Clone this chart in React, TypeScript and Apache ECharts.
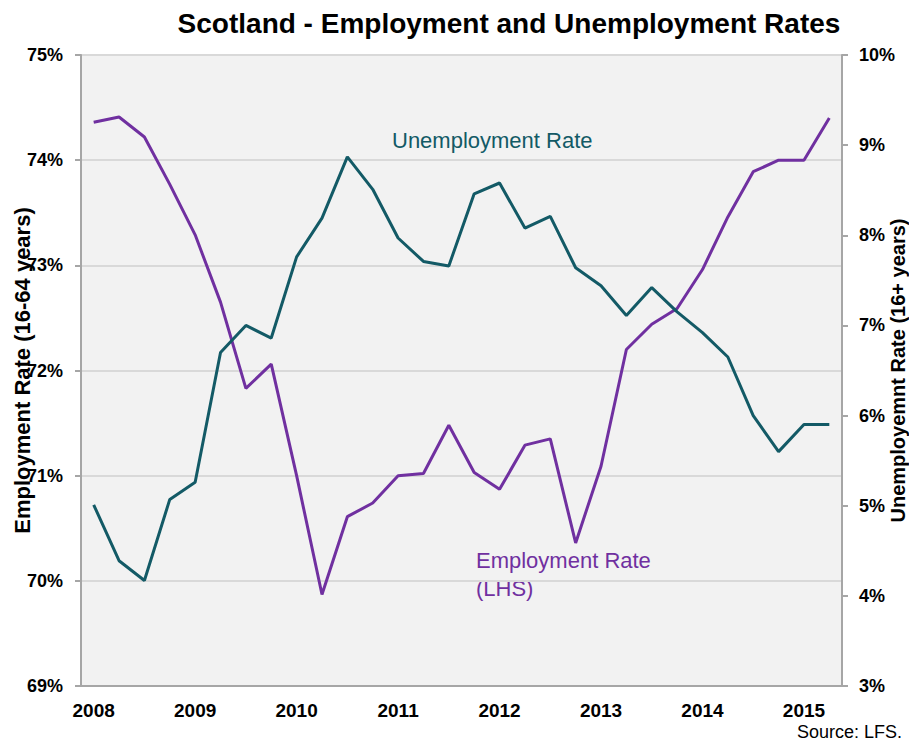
import React, { useEffect, useRef } from "react";
import * as echarts from "echarts";

const quarters = [
  "2008 Q1","2008 Q2","2008 Q3","2008 Q4",
  "2009 Q1","2009 Q2","2009 Q3","2009 Q4",
  "2010 Q1","2010 Q2","2010 Q3","2010 Q4",
  "2011 Q1","2011 Q2","2011 Q3","2011 Q4",
  "2012 Q1","2012 Q2","2012 Q3","2012 Q4",
  "2013 Q1","2013 Q2","2013 Q3","2013 Q4",
  "2014 Q1","2014 Q2","2014 Q3","2014 Q4",
  "2015 Q1","2015 Q2",
];

const employmentRate = [
  74.36, 74.41, 74.22, 73.77, 73.29, 72.65, 71.83, 72.06,
  71.0, 69.87, 70.61, 70.74, 71.0, 71.02, 71.48, 71.03,
  70.87, 71.29, 71.35, 70.36, 71.09, 72.2, 72.44, 72.59,
  72.96, 73.46, 73.89, 74.0, 74.0, 74.4,
];

const unemploymentRate = [
  5.01, 4.39, 4.17, 5.07, 5.26, 6.7, 7.0, 6.86,
  7.76, 8.19, 8.87, 8.51, 7.97, 7.71, 7.66, 8.46,
  8.58, 8.08, 8.21, 7.64, 7.44, 7.11, 7.42, 7.15,
  6.92, 6.65, 6.0, 5.6, 5.9, 5.9,
];

const FONT = "'Liberation Sans', Arial, sans-serif";
const TEAL = "#135A66";
const PURPLE = "#7030A0";

export default function App() {
  const ref = useRef<HTMLDivElement>(null);

  useEffect(() => {
    document.body.style.margin = "0";
    if (!ref.current) return;
    const chart = echarts.init(ref.current, undefined, { renderer: "svg" });
    chart.setOption({
      animation: false,
      backgroundColor: "#ffffff",
      grid: {
        left: 81,
        right: 67,
        top: 55,
        bottom: 55,
        show: true,
        backgroundColor: "#F2F2F2",
        borderWidth: 0,
        containLabel: false,
        outerBoundsMode: "none",
      },
      xAxis: {
        type: "category",
        data: quarters,
        boundaryGap: true,
        axisLine: { show: true, lineStyle: { color: "#A6A6A6", width: 2 } },
        axisTick: { show: false },
        axisLabel: {
          interval: 3,
          margin: 15,
          fontFamily: FONT,
          fontSize: 19,
          fontWeight: "bold",
          color: "#000",
          formatter: (v: string) => v.split(" ")[0],
        },
        splitLine: { show: false },
      },
      yAxis: [
        {
          type: "value",
          min: 69,
          max: 75,
          interval: 1,
          position: "left",
          name: "Employment Rate (16-64 years)",
          nameLocation: "middle",
          nameRotate: 90,
          nameGap: 48,
          nameMoveOverlap: false,
          nameTextStyle: { fontFamily: FONT, fontSize: 22, fontWeight: "bold", color: "#000" },
          axisLine: { show: true, lineStyle: { color: "#A6A6A6", width: 2 } },
          axisTick: { show: true, length: 6, lineStyle: { color: "#A6A6A6", width: 2 } },
          axisLabel: {
            margin: 18,
            fontFamily: FONT,
            fontSize: 18,
            fontWeight: "bold",
            color: "#000",
            formatter: "{value}%",
          },
          splitLine: { show: true, lineStyle: { color: "#D9D9D9", width: 2 } },
        },
        {
          type: "value",
          min: 3,
          max: 10,
          interval: 1,
          position: "right",
          name: "Unemployemnt Rate (16+ years)",
          nameLocation: "middle",
          nameRotate: 90,
          nameGap: 46,
          nameMoveOverlap: false,
          nameTextStyle: { fontFamily: FONT, fontSize: 20, fontWeight: "bold", color: "#000" },
          axisLine: { show: true, lineStyle: { color: "#A6A6A6", width: 2 } },
          axisTick: { show: true, length: 6, lineStyle: { color: "#A6A6A6", width: 2 } },
          axisLabel: {
            margin: 17,
            fontFamily: FONT,
            fontSize: 18,
            fontWeight: "bold",
            color: "#000",
            formatter: "{value}%",
          },
          splitLine: { show: false },
        },
      ],
      series: [
        {
          name: "Employment Rate (LHS)",
          type: "line",
          yAxisIndex: 0,
          data: employmentRate,
          showSymbol: false,
          symbol: "none",
          lineStyle: { color: PURPLE, width: 3 },
          itemStyle: { color: PURPLE },
        },
        {
          name: "Unemployment Rate",
          type: "line",
          yAxisIndex: 1,
          data: unemploymentRate,
          showSymbol: false,
          symbol: "none",
          lineStyle: { color: TEAL, width: 3 },
          itemStyle: { color: TEAL },
        },
      ],
      graphic: [
        {
          type: "text",
          style: {
            x: 509,
            y: 23,
            text: "Scotland - Employment and Unemployment Rates",
            font: `bold 28px ${FONT}`,
            fill: "#000",
            textAlign: "center",
            textVerticalAlign: "middle",
          },
        },
        {
          type: "text",
          style: {
            x: 392,
            y: 140,
            text: "Unemployment Rate",
            font: `22px ${FONT}`,
            fill: TEAL,
            textAlign: "left",
            textVerticalAlign: "middle",
          },
        },
        {
          type: "text",
          style: {
            x: 476,
            y: 560,
            text: "Employment Rate",
            font: `22px ${FONT}`,
            fill: PURPLE,
            textAlign: "left",
            textVerticalAlign: "middle",
          },
        },
        {
          type: "text",
          style: {
            x: 476,
            y: 588,
            text: "(LHS)",
            font: `22px ${FONT}`,
            fill: PURPLE,
            textAlign: "left",
            textVerticalAlign: "middle",
          },
        },
        {
          type: "text",
          style: {
            x: 902,
            y: 732,
            text: "Source: LFS.",
            font: `18px ${FONT}`,
            fill: "#000",
            textAlign: "right",
            textVerticalAlign: "middle",
          },
        },
      ],
    });
    return () => chart.dispose();
  }, []);

  return <div ref={ref} style={{ width: 909, height: 741 }} />;
}
